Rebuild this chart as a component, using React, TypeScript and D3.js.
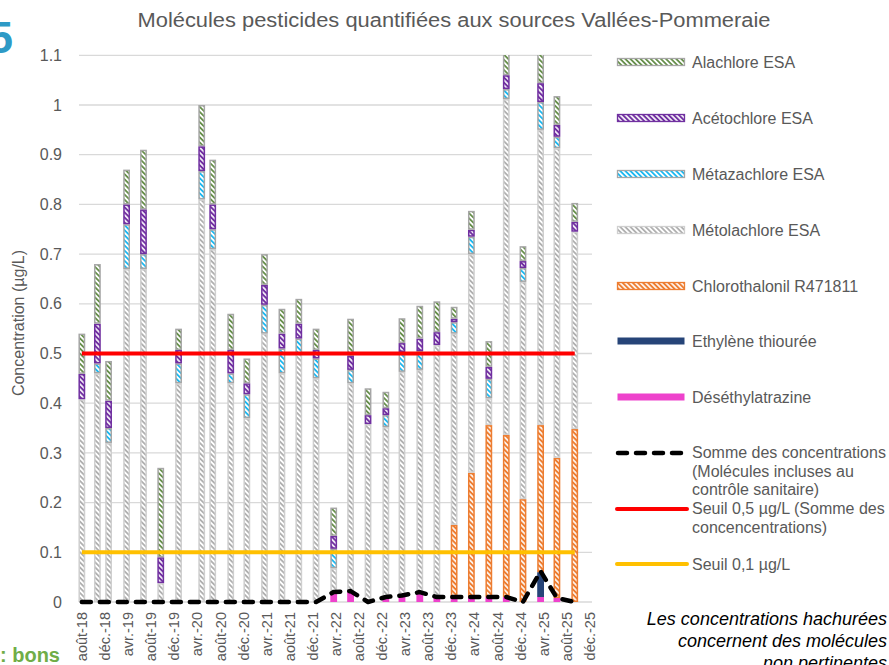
import React from 'react'
import * as d3 from 'd3'

const W = 889
const H = 665

// sample dates
const DATES = [
  '2018-08-01', '2018-10-22', '2018-12-20', '2019-03-25', '2019-06-22', '2019-09-21',
  '2019-12-24', '2020-04-24', '2020-06-21', '2020-09-24', '2020-12-18', '2021-03-21',
  '2021-06-21', '2021-09-18', '2021-12-18', '2022-03-21', '2022-06-18', '2022-09-18',
  '2022-12-21', '2023-03-16', '2023-06-18', '2023-09-16', '2023-12-16', '2024-03-16',
  '2024-06-16', '2024-09-16', '2024-12-13', '2025-03-16', '2025-06-10', '2025-09-12'
]

// µg/L, one value per date
const DESETHYLATRAZINE = [0, 0, 0, 0, 0, 0, 0, 0, 0, 0, 0, 0, 0, 0, 0, 0.02, 0.02, 0, 0.01, 0.013, 0.02, 0.01, 0.01, 0.01, 0.01, 0.01, 0, 0.01, 0.008, 0]
const ETHYLENE_THIOUREE = [0, 0, 0, 0, 0, 0, 0, 0, 0, 0, 0, 0, 0, 0, 0, 0, 0, 0, 0, 0, 0, 0, 0, 0, 0, 0, 0, 0.05, 0, 0]
const CHLOROTHALONIL = [0, 0, 0, 0, 0, 0, 0, 0, 0, 0, 0, 0, 0, 0, 0, 0, 0, 0, 0, 0, 0, 0, 0.145, 0.25, 0.346, 0.326, 0.207, 0.296, 0.282, 0.348]
const METOLACHLORE = [0.408, 0.46, 0.32, 0.67, 0.67, 0.038, 0.44, 0.81, 0.71, 0.44, 0.37, 0.54, 0.46, 0.5, 0.45, 0.048, 0.42, 0.358, 0.342, 0.45, 0.447, 0.507, 0.385, 0.44, 0.054, 0.676, 0.437, 0.594, 0.623, 0.397]
const METAZACHLORE = [0, 0.02, 0.03, 0.09, 0.03, 0, 0.04, 0.057, 0.04, 0.02, 0.048, 0.058, 0.05, 0.03, 0.04, 0.039, 0.027, 0, 0.024, 0.04, 0.038, 0, 0.023, 0.035, 0.039, 0.02, 0.028, 0.056, 0.023, 0]
const ACETOCHLORE = [0.051, 0.08, 0.055, 0.04, 0.09, 0.052, 0.027, 0.05, 0.05, 0.047, 0.022, 0.04, 0.03, 0.03, 0.017, 0.026, 0.028, 0.018, 0.014, 0.018, 0.025, 0.026, 0.007, 0.014, 0.024, 0.028, 0.014, 0.038, 0.024, 0.02]
const ALACHLORE = [0.081, 0.12, 0.08, 0.07, 0.12, 0.18, 0.043, 0.083, 0.09, 0.073, 0.05, 0.062, 0.05, 0.05, 0.043, 0.057, 0.075, 0.054, 0.033, 0.05, 0.066, 0.062, 0.024, 0.038, 0.052, 0.08, 0.03, 0.09, 0.058, 0.038]
const SOMME = [0, 0, 0, 0, 0, 0, 0, 0, 0, 0, 0, 0, 0, 0, 0, 0.02, 0.022, 0, 0.01, 0.013, 0.02, 0.01, 0.01, 0.01, 0.01, 0.01, 0, 0.062, 0.008, 0]
const SEUIL_05 = 0.5
const SEUIL_01 = 0.1

const Y_TICKS = [0, 0.1, 0.2, 0.3, 0.4, 0.5, 0.6, 0.7, 0.8, 0.9, 1, 1.1]
const MONTHS_FR = ['janv.', 'févr.', 'mars', 'avr.', 'mai', 'juin', 'juil.', 'août', 'sept.', 'oct.', 'nov.', 'déc.']

const SERIES = [
  { key: 'deseth', label: 'Déséthylatrazine', values: DESETHYLATRAZINE, fill: '#EE42CC', stroke: 'none', hatch: null },
  { key: 'ethyl', label: 'Ethylène thiourée', values: ETHYLENE_THIOUREE, fill: '#264478', stroke: 'none', hatch: null },
  { key: 'chloro', label: 'Chlorothalonil R471811', values: CHLOROTHALONIL, fill: '#ED7D31', stroke: '#ED7D31', hatch: { bg: '#ED7D31', fg: '#ffffff' } },
  { key: 'meto', label: 'Métolachlore ESA', values: METOLACHLORE, fill: '', stroke: '#CFCFCF', hatch: { bg: '#ffffff', fg: '#A6A6A6' } },
  { key: 'meta', label: 'Métazachlore ESA', values: METAZACHLORE, fill: '', stroke: '#A6A6A6', hatch: { bg: '#ffffff', fg: '#00B0F0' } },
  { key: 'aceto', label: 'Acétochlore ESA', values: ACETOCHLORE, fill: '', stroke: '#7030A0', hatch: { bg: '#7030A0', fg: '#ffffff' } },
  { key: 'ala', label: 'Alachlore ESA', values: ALACHLORE, fill: '', stroke: '#A6A6A6', hatch: { bg: '#ffffff', fg: '#548235' } }
]

const parse = d3.timeParse('%Y-%m-%d')
const font = "'Liberation Sans', Arial, sans-serif"
const textColor = '#595959'

export default function App () {
  const dates = DATES.map(d => parse(d) as Date)
  const x = d3.scaleTime().domain([new Date(2018, 6, 17), new Date(2025, 11, 12)]).range([79, 592])
  const y = d3.scaleLinear().domain([0, 1.1]).range([602, 55.3])

  const rows = dates.map((d, i) => {
    const r: any = { date: d }
    SERIES.forEach(s => { r[s.key] = s.values[i] })
    return r
  })
  const stacked = d3.stack().keys(SERIES.map(s => s.key))(rows)

  const tickDates = d3.range(23).map(i => new Date(2018, 7 + 4 * i, 1))
  const fmt = (d: Date) => MONTHS_FR[d.getMonth()] + '-' + String(d.getFullYear()).slice(2)

  const line = d3.line<number>().x((v, i) => x(dates[i])).y(v => y(v))
  const barW = 6.8

  const legendItems = [...SERIES].reverse()
  const legendY = [62, 118, 174, 230, 286, 341, 397]

  const fillFor = (s: any) => (s.hatch ? `url(#hatch-${s.key})` : s.fill)

  return (
    <svg width={W} height={H} style={{ position: 'absolute', left: 0, top: 0 }} fontFamily={font}>
      <defs>
        {SERIES.filter(s => s.hatch).map(s => (
          <pattern key={s.key} id={`hatch-${s.key}`} patternUnits='userSpaceOnUse' width={3.6} height={3.6} patternTransform='rotate(-45)'>
            <rect width={3.6} height={3.6} fill={s.hatch!.bg} />
            <line x1={0.9} y1={0} x2={0.9} y2={3.6} stroke={s.hatch!.fg} strokeWidth={1.6} />
          </pattern>
        ))}
        <clipPath id='plot'>
          <rect x={70} y={55} width={530} height={560} />
        </clipPath>
      </defs>
      <rect width={W} height={H} fill='#fff' />

      {/* bits of the surrounding page */}
      <text x={13} y={53} textAnchor='end' fontSize={44} fontWeight='bold' fill='#2E9AC6'>5</text>
      <text x={0} y={662} fontSize={20} fontWeight='bold' fill='#70AD47'>: bons</text>

      <text x={454} y={27} textAnchor='middle' fontSize={20} textLength={633} lengthAdjust='spacingAndGlyphs' fill={textColor}>
        Molécules pesticides quantifiées aux sources Vallées-Pommeraie
      </text>

      {/* grid + y axis */}
      {Y_TICKS.map(t => (
        <g key={t}>
          <line x1={79} x2={592} y1={y(t)} y2={y(t)} stroke='#D9D9D9' strokeWidth={1.3} />
          <text x={62} y={y(t)} dy='0.35em' textAnchor='end' fontSize={16} fill={textColor}>{t}</text>
        </g>
      ))}
      <text transform='translate(24,323) rotate(-90)' textAnchor='middle' fontSize={16} fill={textColor}>Concentration (µg/L)</text>

      {/* x axis labels */}
      {tickDates.map(d => (
        <text key={+d} transform={`translate(${x(d)},612) rotate(-90)`} dy='0.35em' textAnchor='end' fontSize={14.5} fill={textColor}>
          {fmt(d)}
        </text>
      ))}

      {/* stacked bars */}
      <g clipPath='url(#plot)'>
        {stacked.map((layer, li) => {
          const s = SERIES[li]
          return (
            <g key={s.key}>
              {layer.map((seg, i) => {
                const h = y(seg[0]) - y(seg[1])
                if (h <= 0.1) return null
                const sw = s.stroke === 'none' ? 0 : 1.5
                return (
                  <rect
                    key={i}
                    x={x(dates[i]) - barW / 2 + sw / 2}
                    y={y(seg[1]) + sw / 2}
                    width={barW - sw}
                    height={Math.max(h - sw, 0.5)}
                    fill={fillFor(s)}
                    stroke={s.stroke}
                    strokeWidth={sw}
                  />
                )
              })}
            </g>
          )
        })}
      </g>

      {/* thresholds and sum */}
      <path d={line(dates.map(() => SEUIL_05)) || ''} fill='none' stroke='#FF0000' strokeWidth={4} />
      <path d={line(dates.map(() => SEUIL_01)) || ''} fill='none' stroke='#FFC000' strokeWidth={4} />
      <path d={line(SOMME) || ''} fill='none' stroke='#000' strokeWidth={4.5} strokeDasharray='9 9' strokeLinecap='round' strokeLinejoin='round' />

      {/* legend */}
      {legendItems.map((s, i) => (
        <g key={s.key}>
          <rect x={617.5} y={legendY[i] - 3.5} width={67} height={7} fill={fillFor(s)} stroke={s.stroke} strokeWidth={s.stroke === 'none' ? 0 : 1.3} />
          <text x={692} y={legendY[i]} dy='0.35em' fontSize={16} fill={textColor}>{s.label}</text>
        </g>
      ))}
      <line x1={618} x2={686} y1={453} y2={453} stroke='#000' strokeWidth={4.5} strokeDasharray='9 9' strokeLinecap='round' />
      <text x={692} y={458} fontSize={16} fill={textColor}>
        <tspan x={692}>Somme des concentrations</tspan>
        <tspan x={692} dy={18.5}>(Molécules incluses au</tspan>
        <tspan x={692} dy={18.5}>contrôle sanitaire)</tspan>
      </text>
      <line x1={617} x2={687} y1={509} y2={509} stroke='#FF0000' strokeWidth={4} strokeLinecap='round' />
      <text x={692} y={514} fontSize={16} fill={textColor}>
        <tspan x={692}>Seuil 0,5 µg/L (Somme des</tspan>
        <tspan x={692} dy={18.5}>concencentrations)</tspan>
      </text>
      <line x1={617} x2={687} y1={564} y2={564} stroke='#FFC000' strokeWidth={4} strokeLinecap='round' />
      <text x={692} y={570} fontSize={16} fill={textColor}>Seuil 0,1 µg/L</text>

      <text x={887} y={625} textAnchor='end' fontSize={18} fontStyle='italic' fill='#000'>
        <tspan x={887}>Les concentrations hachurées</tspan>
        <tspan x={887} dy={22}>concernent des molécules</tspan>
        <tspan x={887} dy={22}>non pertinentes</tspan>
      </text>
    </svg>
  )
}
